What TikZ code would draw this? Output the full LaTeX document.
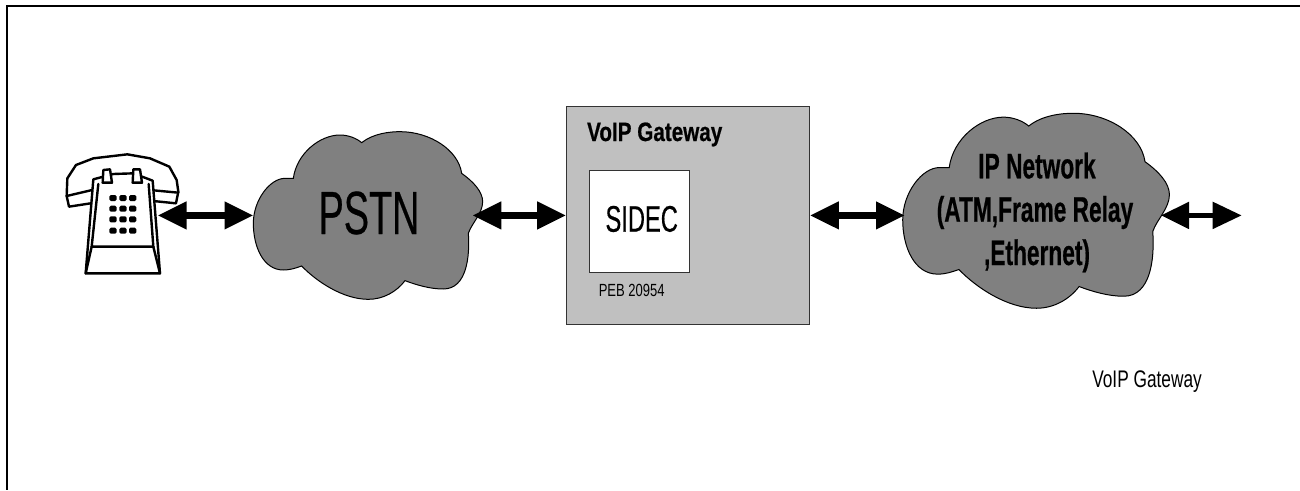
\documentclass[tikz,border=0pt]{standalone}
\usepackage{fontspec}
\usepackage{graphicx}
\setmainfont{Liberation Sans}
\newfontfamily\heavyfont[BoldFeatures={FakeBold=0.7}]{Liberation Sans}
\newfontfamily\regheavy[FakeBold=0.5]{Liberation Sans}
\usetikzlibrary{arrows.meta}
\newcommand{\sq}[2]{\scalebox{#1}[1]{#2}}
\newcommand{\fs}[1]{\fontsize{#1}{#1}\selectfont}
\newcommand{\cloudshape}{
  (160,265) .. controls (170,190) and (240,135) .. (300,135)
  .. controls (325,135) and (350,145) .. (365,158)
  .. controls (400,130) and (450,125) .. (480,125)
  .. controls (570,125) and (655,180) .. (665,250)
  .. controls (700,275) and (728,305) .. (728,335)
  .. controls (728,370) and (695,400) .. (685,430)
  .. controls (690,500) and (680,597) .. (610,597)
  .. controls (570,597) and (530,585) .. (495,572)
  .. controls (470,605) and (430,628) .. (385,628)
  .. controls (310,628) and (230,575) .. (185,528)
  .. controls (165,535) and (150,540) .. (130,540)
  .. controls (70,540) and (40,470) .. (40,400)
  .. controls (40,330) and (90,265) .. (135,265)
  .. controls (145,265) and (155,265) .. (160,265) -- cycle}
\tikzset{
  frameline/.style={line width=2pt,line cap=butt},
  cloudfill/.style={fill=cloudgrey,draw=black,line width=1pt},
  biarrow/.style={line width=7pt,{Triangle[length=29pt,width=26pt]}-{Triangle[length=29pt,width=26pt]}},
  thinbiarrow/.style={line width=5pt,{Triangle[length=28pt,width=26pt]}-{Triangle[length=29pt,width=26pt]}},
  gatebox/.style={fill=gategrey,draw=black!80,line width=1pt,inner sep=0pt,minimum width=242.6pt,minimum height=217.3pt},
  chipbox/.style={fill=white,draw=black!80,line width=1pt,inner sep=0pt,minimum width=100.7pt,minimum height=102pt},
  lbl/.style={inner sep=0pt,text=black,anchor=base},
  phoneline/.style={line width=2.4pt,line join=round,line cap=round,draw=black,fill=white},
  phonekey/.style={fill=black,rounded corners=1.5pt,draw=none}
}
\definecolor{cloudgrey}{HTML}{808080}
\definecolor{gategrey}{HTML}{C0C0C0}
\begin{document}
\begin{tikzpicture}[x=1pt,y=-1pt]
\useasboundingbox (0,0) rectangle (1300,490);
\draw[frameline] (1300,6) -- (7,6) -- (7,490);
% clouds
\begin{scope}[shift={(240,90)},scale=0.33333]
\path[cloudfill] \cloudshape;
\end{scope}
\begin{scope}[shift={(887.2,64.8)},scale=0.38767]
\path[cloudfill] \cloudshape;
\end{scope}
% gateway
\node[gatebox] (gw) at (688,215.4) {};
\node[chipbox] (chip) at (639.6,221.7) {};
\coordinate (pstnW) at (253.5,215.4);
\coordinate (pstnE) at (472.3,215.4);
\coordinate (ipW) at (905,215.4);
\coordinate (ipE) at (1161,215.4);
\coordinate (ipOut) at (1241.7,215.4);
\coordinate (phoneE) at (157.5,215.4);
\node[lbl,font=\heavyfont\bfseries\fs{26.5}] (gwtitle) at (654.7,141) {\sq{0.78}{VoIP Gateway}};
\node[lbl,font=\regheavy\fs{37}] (sidec) at (641.7,231.7) {\sq{0.64}{SIDEC}};
\node[lbl,font=\fs{17.6}] (peb) at (631.7,296.7) {\sq{0.74}{PEB 20954}};
\node[lbl,font=\regheavy\fs{61}] (pstn) at (369,234) {\sq{0.62}{PSTN}};
\node[lbl,font=\heavyfont\bfseries\fs{35.5}] (ip1) at (1037,178.3) {\sq{0.64}{IP Network}};
\node[lbl,font=\heavyfont\bfseries\fs{35.5}] (ip2) at (1035,221.7) {\sq{0.64}{(ATM,Frame Relay}};
\node[lbl,font=\heavyfont\bfseries\fs{35.5}] (ip3) at (1037,265) {\sq{0.64}{,Ethernet)}};
\node[lbl,font=\fs{24}] (cap) at (1147,387) {\sq{0.72}{VoIP Gateway}};
% arrows
\draw[biarrow] (phoneE) -- (pstnW);
\draw[biarrow] (pstnE) -- (gw.west);
\draw[biarrow] (gw.east) -- (ipW);
\draw[thinbiarrow] (ipE) -- (ipOut);
% phone
\begin{scope}[shift={(50,110)},scale=0.33333]
\draw[phoneline] (52,205) -- (78,165) -- (130,145) -- (232,133) -- (300,145) -- (358,170) -- (380,210) -- (385,245) -- (378,280) -- (300,272) -- (135,278) -- (57,290) -- (50,258) -- cycle;
\draw[phoneline,fill=none] (50,258) -- (135,238);
\draw[phoneline,fill=none] (300,240) -- (385,248);
\draw[phoneline] (130,208) -- (190,192) -- (250,190) -- (308,212) -- (330,490) -- (107,490) -- cycle;
\draw[phoneline,fill=none] (145,222) -- (125,410) -- (310,410) -- (296,222);
\draw[phoneline,fill=none] (125,410) -- (107,490);
\draw[phoneline,fill=none] (310,410) -- (330,490);
\draw[phoneline] (158,218) -- (160,180) -- (180,178) -- (186,218) -- cycle;
\draw[phoneline] (248,218) -- (250,178) -- (270,178) -- (276,218) -- cycle;
\foreach \kx in {189,219,248}{\foreach \ky in {264,296,328,362}{
  \path[phonekey] (\kx-11,\ky-9) rectangle (\kx+11,\ky+9);}}
\end{scope}
\end{tikzpicture}
\end{document}
